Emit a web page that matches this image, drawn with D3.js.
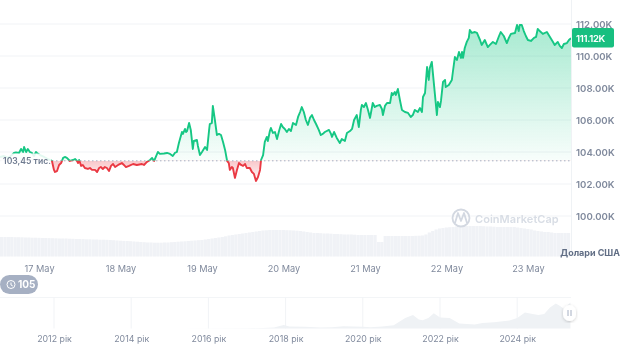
<!DOCTYPE html>
<html>
<head>
<meta charset="utf-8">
<script src="https://cdn.jsdelivr.net/npm/d3@7"></script>
<style>
  html, body { margin: 0; padding: 0; background: #fff; }
  svg { display: block; font-family: Inter, "Noto Sans", sans-serif; filter: blur(0.5px); }
  .domain { display: none; }
  .tick line { display: none; }
</style>
</head>
<body>
<div id="chart"></div>
<script>
// hours counted from the left edge of the 7 day window (16 May, 12:30)
var priceHours = [0,1.2,2.4,3.5,4.1,4.7,5.6,6.2,6.8,7.1,7.7,8.2,8.8,9.4,10,10.6,10.9,11.8,13,14.1,15.3,15.9,16.2,16.8,17.4,18,18.6,19.1,19.7,20.6,21.5,22.1,22.7,23,23.3,23.9,24.4,25,25.9,26.5,27.1,28,28.6,29.2,29.7,30.3,30.9,31.5,32.1,32.7,33.3,33.9,34.8,35.9,36.5,37.1,38,39.2,40.3,41.8,42.4,43.3,44.2,44.8,45.4,45.9,46.5,47.1,48.3,49.2,50.1,50.9,51.5,52.1,52.7,53.6,53.9,54.5,54.8,55.1,55.7,56.2,56.8,57.1,58,58.3,58.9,59.5,60.4,61,61.6,61.8,62.4,62.7,63.3,63.9,64.5,65.1,65.7,66.3,66.9,67.4,67.7,68.3,68.6,69.2,69.8,70.4,71,71.6,72.2,72.7,73.6,74.2,74.8,75.4,76,76.6,76.9,77.5,78,78.6,78.9,79.5,79.8,80.4,81,81.6,82.2,82.8,83.3,83.9,84.5,85.1,85.7,86.3,87.2,87.8,88.4,88.9,89.5,90.1,90.7,91.3,91.9,92.5,93.1,93.9,94.5,95.1,95.7,96.9,97.5,97.8,98.4,99.2,100.1,100.7,101.6,102.2,103.1,103.7,104.3,105.1,105.7,106.3,106.6,107.2,107.8,108.4,109,109.8,110.4,111,111.9,112.5,112.8,113.4,114,114.9,115.4,115.7,116.3,116.6,117.2,117.8,118.4,119.3,120.2,121,121.6,122.2,123.1,123.7,124.3,124.6,125.2,125.8,126.3,126.6,127.2,127.8,128.7,129,129.6,129.9,130.5,131.1,131.3,132.2,133.1,133.4,134,134.6,135.2,135.8,136.1,136.4,136.9,137.5,138.1,138.4,139,139.9,140.5,141.4,141.9,142.8,143.7,144.3,145.2,146.1,147,147.5,148.4,149.3,149.9,150.5,151.7,152.3,152.8,153.1,153.7,154.3,154.9,155.5,156.4,157.3,157.9,158.4,159,159.9,161.1,162,162.9,163.4,164.3,164.9,165.5,166.1,167,167.6,168.2];
var priceValues = [103.69,103.75,103.63,103.81,103.94,103.97,103.94,104.19,104,104.31,104,104.19,104,103.94,103.75,104,103.94,103.81,103.69,103.56,103.44,102.88,102.75,102.81,103.19,103.31,103.63,103.69,103.63,103.44,103.5,103.56,103.44,103.31,103.5,103.13,103.19,103,102.94,103,102.88,102.88,102.75,103,103.06,102.94,103.06,103,102.81,103.13,103.25,103.06,103.19,103.31,103.19,103.06,103.13,103.25,103.19,103.25,103.19,103.38,103.5,103.63,103.44,103.69,104,103.88,103.91,103.94,103.88,103.75,103.94,104,104.56,105.25,105.13,105.44,105.25,105.31,105.81,105.38,104.19,104.69,104.75,104.38,103.81,104,104.31,104.13,105.38,105.75,105.81,106.88,106,105.06,105.13,105.06,104.63,104.13,103.44,103.31,102.88,103.06,103,102.38,102.88,103.31,103.19,103.13,103.25,103,103,102.75,102.63,102.19,102.44,102.88,103.5,103.81,104.63,104.94,104.69,105.31,105.5,105.19,105.25,104.81,105.31,105.75,105.56,105.44,105.25,105.44,105.31,105.81,105.69,106.19,106.5,106.81,106.5,106,105.69,106.13,106.31,106,105.75,105.38,105.06,105.13,105.25,105.38,105.13,104.94,105.25,104.88,104.56,104.81,104.69,105.19,105.31,105.44,106,106.31,105.56,106.63,106.94,106.81,107.06,106.63,106.13,107.06,106.81,106.88,106.94,106.69,106.31,106.88,107.06,107.06,107.69,107.56,107.75,107.56,107.94,107.25,106.63,106.5,106.44,106.19,106.31,106.63,106.5,106.75,106.5,107.44,107.69,109.31,108.5,109.25,109.63,108.31,106.31,107.13,106.81,107.19,108.38,108.5,108.06,108.19,108.5,109,109.94,109.75,110.25,109.88,110.25,109.88,110.5,110.88,111.13,111.63,111.44,111.5,111.44,111,110.69,111,110.56,110.69,110.88,110.75,111.25,111.5,111.25,110.81,111.13,111.38,111.44,111.94,111.56,111.94,111.94,111.56,111.25,111,110.94,111.13,111.19,111.69,111.56,111.38,111.5,111.19,110.88,110.69,110.88,110.63,110.5,110.75,110.81,111,111.12];
// hourly volume, billions of USD (no scale in the picture, so estimated)
var volumeValues = [19.5,19.5,19.5,19.5,19.3,19.3,19.2,19,19,18.8,18.8,18.7,18.5,18.5,18.4,18.3,18.2,18,18,18,17.8,17.7,17.5,17.5,17.4,17.2,17.2,17,17,16.8,16.8,16.7,16.5,16.3,16,15.8,15.6,15.5,15.3,15,14.8,14.5,14.3,14,14,13.8,13.8,13.8,14,14,14.3,14.5,14.8,15,15.2,15.5,15.8,16,16.3,16.5,17,17.5,18,18.5,19,19.5,20.2,21,21.5,22,22.5,23,23.5,24,24.5,25,25.5,26,26.2,26.5,26.5,26.5,26.5,26.5,26.3,26.2,26,25.8,25.5,25,24.5,24,23.5,23.5,23.3,23,23,22.8,22.5,22.5,22.3,22,22,22,21.8,21.5,21.5,21.5,21.5,21.5,21.5,14.5,14.5,20.5,20.5,20.5,20.5,20.5,20.5,20.5,20.5,20.5,20.7,20.8,21,22,24,25.5,27,28,28.5,29,29.3,29.5,30,30.2,30.5,30.5,30.5,30.5,30.5,30.5,30.3,30,30,29.8,29.5,29.5,29.5,29.5,29.5,29.5,29,28.5,28,27.5,27,26,25.5,25,24.5,24.5,24,23.5,23.5,23.5,23.5,23.5];
var priceTicks = [100,102,104,106,108,110,112];
var dayLabels = [17,18,19,20,21,22,23];
var basePrice = 103.45;
var lastPrice = 111.12;
var yearLabels = [2012,2014,2016,2018,2020,2022,2024];
// price history for the navigator, thousands of USD
var historyYears = [2010.6,2013,2015,2017,2017.4,2017.7,2017.95,2018.1,2018.5,2018.9,2019.2,2019.5,2020,2020.2,2020.5,2020.8,2021.1,2021.3,2021.45,2021.55,2021.7,2021.84,2022,2022.25,2022.5,2022.9,2023.1,2023.4,2023.8,2024,2024.2,2024.4,2024.55,2024.7,2024.85,2025,2025.1,2025.2,2025.38];
var historyValues = [0,0.5,0.4,1,2,4,15,9,7,4,5,10,7,5,9,14,45,58,38,35,45,65,47,45,21,17,23,27,34,45,68,62,58,62,90,107,97,85,111];

var fullWidth = 624, fullHeight = 353;
var plotRight = 571, plotBottom = 256;
var green = "#16c784", red = "#ea3943", grey = "#808a9d";

var svg = d3.select("#chart").append("svg")
  .attr("width", fullWidth)
  .attr("height", fullHeight);

var startTime = new Date(2025, 4, 16, 12, 30);
function hourToDate(h) { return new Date(startTime.getTime() + h * 3600000); }

var x = d3.scaleTime().domain([hourToDate(0), hourToDate(168.2)]).range([0, plotRight]);
var y = d3.scaleLinear().domain([97.5, 113.5]).range([plotBottom, 0]);
var yVolume = d3.scaleLinear().domain([0, 36]).range([plotBottom + 0.5, plotBottom - 35.5]);

var priceData = priceHours.map(function(h, i) { return { date: hourToDate(h), value: priceValues[i] }; });
var baseY = y(basePrice);

var defs = svg.append("defs");
var greenGrad = defs.append("linearGradient").attr("id", "greenFill")
  .attr("gradientUnits", "userSpaceOnUse").attr("x1", 0).attr("x2", 0).attr("y1", y(112)).attr("y2", baseY);
greenGrad.append("stop").attr("offset", 0).attr("stop-color", green).attr("stop-opacity", 0.38);
greenGrad.append("stop").attr("offset", 1).attr("stop-color", green).attr("stop-opacity", 0.03);
var redGrad = defs.append("linearGradient").attr("id", "redFill")
  .attr("gradientUnits", "userSpaceOnUse").attr("x1", 0).attr("x2", 0).attr("y1", baseY).attr("y2", y(102.2));
redGrad.append("stop").attr("offset", 0).attr("stop-color", red).attr("stop-opacity", 0.28);
redGrad.append("stop").attr("offset", 1).attr("stop-color", red).attr("stop-opacity", 0.04);
defs.append("clipPath").attr("id", "aboveBase").append("rect")
  .attr("x", 0).attr("y", 0).attr("width", plotRight).attr("height", baseY);
defs.append("clipPath").attr("id", "belowBase").append("rect")
  .attr("x", 0).attr("y", baseY).attr("width", plotRight).attr("height", plotBottom - baseY);

// grid
svg.append("g").selectAll("line").data(priceTicks).enter().append("line")
  .attr("x1", 0).attr("x2", plotRight)
  .attr("y1", function(d) { return y(d); })
  .attr("y2", function(d) { return y(d); })
  .attr("stroke", "#f1f3f6");
svg.append("line").attr("x1", plotRight + 0.5).attr("x2", plotRight + 0.5)
  .attr("y1", 0).attr("y2", plotBottom).attr("stroke", "#eff2f5");

// volume bars
svg.append("g").selectAll("rect").data(volumeValues).enter().append("rect")
  .attr("x", function(d, i) { return x(hourToDate(i)); })
  .attr("width", x(hourToDate(1)) - x(hourToDate(0)) - 0.15)
  .attr("y", function(d) { return yVolume(d); })
  .attr("height", function(d) { return yVolume(0) - yVolume(d); })
  .attr("fill", "#f0f2f6");

// filled areas and line, green above the base price and red below
var area = d3.area()
  .x(function(d) { return x(d.date); })
  .y0(baseY)
  .y1(function(d) { return y(d.value); });
var line = d3.line()
  .x(function(d) { return x(d.date); })
  .y(function(d) { return y(d.value); });

svg.append("path").datum(priceData).attr("d", area).attr("fill", "url(#greenFill)").attr("clip-path", "url(#aboveBase)");
svg.append("path").datum(priceData).attr("d", area).attr("fill", "url(#redFill)").attr("clip-path", "url(#belowBase)");

svg.append("line").attr("x1", 0).attr("x2", plotRight).attr("y1", baseY).attr("y2", baseY)
  .attr("stroke", "#a6b0c3").attr("stroke-width", 1).attr("stroke-dasharray", "1.5,2.5");

svg.append("path").datum(priceData).attr("d", line).attr("fill", "none").attr("stroke", green)
  .attr("stroke-width", 1.9).attr("stroke-linejoin", "round").attr("clip-path", "url(#aboveBase)");
svg.append("path").datum(priceData).attr("d", line).attr("fill", "none").attr("stroke", red)
  .attr("stroke-width", 1.9).attr("stroke-linejoin", "round").attr("clip-path", "url(#belowBase)");

// base price label sits on a whitish box that hides the start of the line
svg.append("rect").attr("x", 0).attr("y", 153.5).attr("width", 51).attr("height", 16)
  .attr("fill", "#fff").attr("opacity", 0.88);
svg.append("text").attr("x", 3).attr("y", baseY + 3.5).text(d3.format(".2f")(basePrice).replace(".", ",") + " тис.")
  .attr("font-size", "8.6px").attr("font-weight", 600).attr("fill", "#6f7b90");

// price axis
var yAxis = d3.axisRight(y).tickValues(priceTicks).tickSize(0).tickPadding(0)
  .tickFormat(function(d) { return d3.format(".2f")(d) + "K"; });
svg.append("g").attr("transform", "translate(576,0)").call(yAxis)
  .selectAll("text").attr("font-family", "Inter").attr("font-size", "9.6px").attr("font-weight", 600).attr("fill", grey);

svg.append("rect").attr("x", 572).attr("y", y(lastPrice) - 10).attr("width", 42).attr("height", 19.5).attr("rx", 2).attr("fill", "#18bf80");
svg.append("text").attr("x", 576).attr("y", y(lastPrice) + 3.5).text(d3.format(".2f")(lastPrice) + "K")
  .attr("font-size", "9.6px").attr("font-weight", 600).attr("letter-spacing", "-0.3px").attr("fill", "#fff");

// day axis
var xAxis = d3.axisBottom(x)
  .tickValues(dayLabels.map(function(d) { return new Date(2025, 4, d); }))
  .tickSize(0).tickPadding(0)
  .tickFormat(function(d) { return d.getDate() + " May"; });
svg.append("g").attr("transform", "translate(0,265)").call(xAxis)
  .selectAll("text").attr("font-family", "Inter").attr("font-size", "9.2px").attr("fill", grey);

svg.append("text").attr("x", 620).attr("y", 256).attr("text-anchor", "end").text("Долари США")
  .attr("font-size", "9px").attr("font-weight", 700).attr("fill", "#616e85");

// watermark
var mark = svg.append("g").attr("fill", "none").attr("stroke", "#d3d8e1").attr("stroke-width", 1.8);
mark.append("circle").attr("cx", 461).attr("cy", 218).attr("r", 8.5);
mark.append("path").attr("d", "M455,223 L458,213 L461,221 L464,213 L467,223").attr("stroke-linejoin", "round");
svg.append("text").attr("x", 475).attr("y", 223).text("CoinMarketCap")
  .attr("font-size", "11px").attr("font-weight", 600).attr("letter-spacing", "0.05px").attr("fill", "#d8dde5");

// history badge
svg.append("rect").attr("x", 0).attr("y", 275).attr("width", 38).attr("height", 19).attr("rx", 9.5).attr("fill", "#a6b0c3");
var clock = svg.append("g").attr("fill", "none").attr("stroke", "#fff").attr("stroke-width", 1);
clock.append("circle").attr("cx", 11).attr("cy", 284.5).attr("r", 4);
clock.append("path").attr("d", "M11,282.5 V285 L12.8,286");
svg.append("text").attr("x", 18).attr("y", 288).text("105")
  .attr("font-size", "10px").attr("font-weight", 700).attr("fill", "#fff");

// navigator
var navTop = 297.5, navBottom = 328.5;
var xYear = d3.scaleLinear().domain([2012, 2014]).range([54, 131.2]);
var yHistory = d3.scaleLinear().domain([0, 111]).range([navBottom, navBottom - 26]);

svg.append("line").attr("x1", 0).attr("x2", plotRight).attr("y1", navTop).attr("y2", navTop).attr("stroke", "#f3f5f7");
svg.append("g").selectAll("line").data(yearLabels).enter().append("line")
  .attr("x1", function(d) { return xYear(d); })
  .attr("x2", function(d) { return xYear(d); })
  .attr("y1", navTop).attr("y2", navBottom)
  .attr("stroke", "#f1f3f6");

var historyArea = d3.area()
  .x(function(d, i) { return xYear(historyYears[i]); })
  .y0(navBottom)
  .y1(function(d) { return yHistory(d); });
svg.append("path").datum(historyValues).attr("d", historyArea).attr("fill", "#eff2f5");

var yearAxis = d3.axisBottom(xYear).tickValues(yearLabels).tickSize(0).tickPadding(0)
  .tickFormat(function(d) { return d + " рік"; });
svg.append("g").attr("transform", "translate(0,336)").call(yearAxis)
  .selectAll("text").attr("font-family", "Inter").attr("font-size", "8.8px").attr("fill", grey);

// navigator handle
defs.append("filter").attr("id", "handleShadow").append("feDropShadow")
  .attr("dx", 0).attr("dy", 1).attr("stdDeviation", 1.5).attr("flood-opacity", 0.2);
svg.append("rect").attr("x", 563).attr("y", 305).attr("width", 13).attr("height", 16).attr("rx", 6.5)
  .attr("fill", "#fff").attr("filter", "url(#handleShadow)");
svg.append("path").attr("d", "M568,310 V316 M571,310 V316").attr("stroke", "#a6b0c3").attr("stroke-width", 1);
</script>
</body>
</html>
